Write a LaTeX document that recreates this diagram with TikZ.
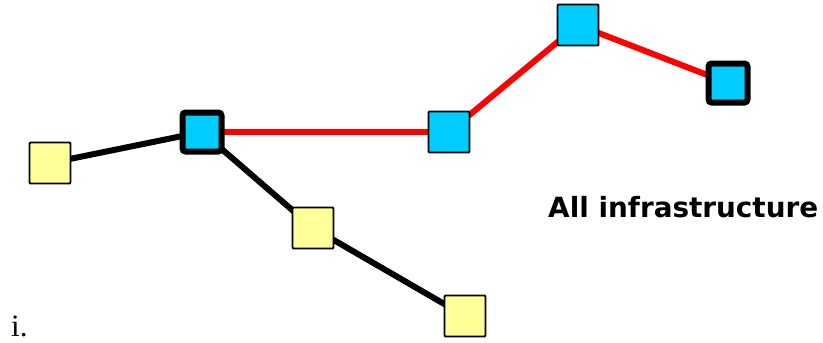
\documentclass[tikz,border=0pt]{standalone}
\usepackage{fontspec}
\setmainfont{Liberation Serif}
\newfontfamily\labelfont{DejaVu Sans}
\usetikzlibrary{backgrounds}
\definecolor{nodeblue}{RGB}{0,204,255}
\definecolor{nodeyellow}{RGB}{255,255,153}
\definecolor{linkred}{RGB}{255,0,0}
\tikzset{
  sq/.style={draw=black, line width=1.8pt, minimum size=41pt, inner sep=0pt, rounded corners=1pt},
  hostsq/.style={sq, fill=nodeyellow},
  routersq/.style={sq, fill=nodeblue},
  edgesq/.style={sq, fill=nodeblue, line width=6pt, minimum size=39pt, rounded corners=3pt},
  blacklink/.style={draw=black, line width=6pt},
  redlink/.style={draw=linkred, line width=6pt},
}
\begin{document}
\begin{tikzpicture}[x=1pt,y=-1pt]
\useasboundingbox (0,0) rectangle (823,343);
% nodes
\node[hostsq] (h1) at (50,163) {};
\node[edgesq] (e1) at (202,132) {};
\node[routersq] (r1) at (449,132) {};
\node[routersq] (r2) at (578,25) {};
\node[edgesq] (e2) at (728,83) {};
\node[hostsq] (h2) at (313,228) {};
\node[hostsq] (h3) at (465,316) {};
% links
\begin{scope}[on background layer]
\path[blacklink] (h1.center) -- (e1.center);
\path[blacklink] (e1.center) -- (h2.center);
\path[blacklink] (h2.center) -- (h3.center);
\path[redlink] (e1.center) -- (r1.center);
\path[redlink] (r1.center) -- (r2.center);
\path[redlink] (r2.center) -- (e2.center);
\end{scope}
% labels
\node[anchor=west, inner sep=0pt] (lbl) at (548,207) {\resizebox{270pt}{!}{\labelfont\bfseries All infrastructure}};
\node[anchor=base west, inner sep=0pt, font=\fontsize{31}{36}\selectfont] (item) at (11,336) {i.};
\end{tikzpicture}
\end{document}
